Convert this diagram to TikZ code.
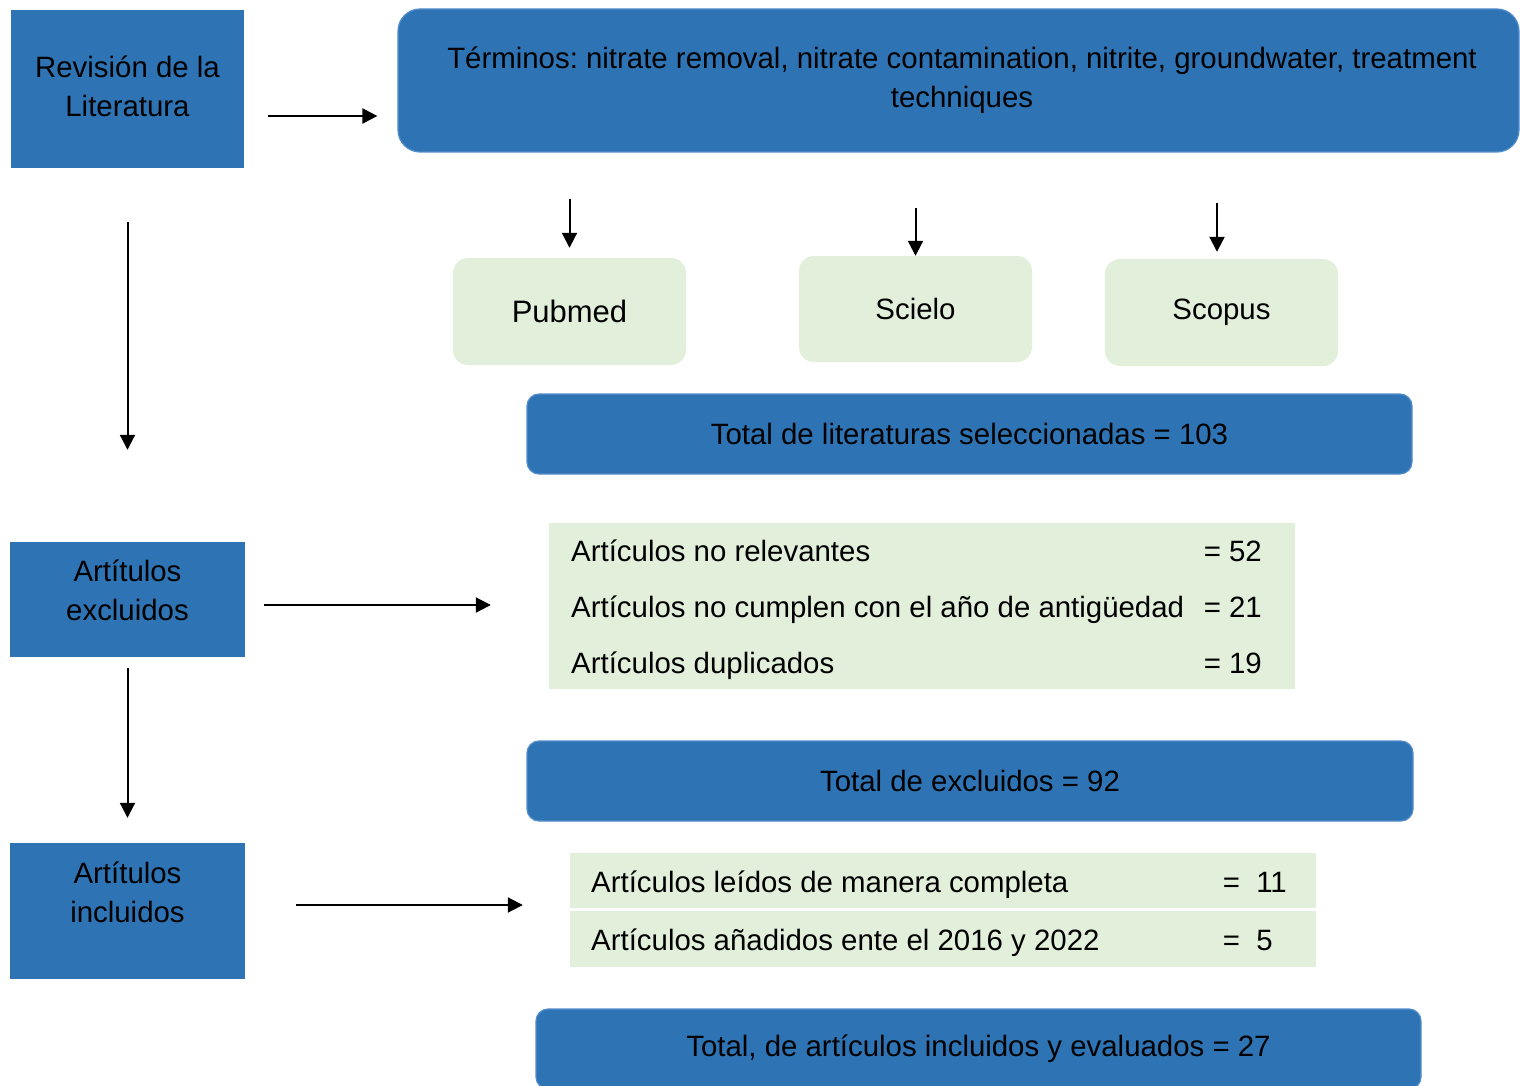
\documentclass[tikz,border=0pt]{standalone}
\usepackage{fontspec}
\setmainfont{Liberation Sans}
\usetikzlibrary{arrows.meta}
\definecolor{bl}{RGB}{46,116,181}
\definecolor{bledge}{RGB}{84,141,204}
\definecolor{gr}{RGB}{226,239,218}
\frenchspacing
\begin{document}
\begin{tikzpicture}[x=1pt,y=-1pt,
  every node/.style={font=\fontsize{29.4pt}{39pt}\selectfont, text=black, inner sep=0pt},
  sqbox/.style={fill=bl, align=center},
  rbox/.style={fill=bl, draw=bledge, line width=1.2pt, rounded corners=#1, align=center},
  rbox/.default=12pt,
  gbox/.style={fill=gr, rounded corners=15pt, align=center},
  lbox/.style={fill=gr},
  row/.style={anchor=base west},
  num/.style={anchor=base east},
  arr/.style={-{Triangle[length=15pt,width=15pt]}, line width=2pt}
]
\clip (0,0) rectangle (1520,1086);
\useasboundingbox (0,0) rectangle (1520,1086);
\fill[white] (0,0) rectangle (1520,1086);

% left column
\node[sqbox, minimum width=233pt, minimum height=158pt] (rev) at (127.5,89) {};
\node[align=center] (revt) at (127.5,86.5) {Revisión de la\\Literatura};
\node[sqbox, minimum width=235pt, minimum height=115pt] (exc) at (127.5,599.5) {};
\node[align=center] (exct) at (127.5,590) {Artítulos\\excluidos};
\node[sqbox, minimum width=235pt, minimum height=136pt] (inc) at (127.5,911) {};
\node[align=center] (inct) at (127.5,892) {Artítulos\\incluidos};

% top
\node[rbox=22pt, minimum width=1121pt, minimum height=143pt] (top) at (958.5,80.5) {};
\node[align=center] (topt) at (962,80) {Términos: nitrate removal, nitrate contamination, nitrite, groundwater, treatment\\techniques};

% databases
\node[gbox, minimum width=233pt, minimum height=107pt, font=\fontsize{31pt}{39pt}\selectfont] (pub) at (569.5,311.5) {Pubmed};
\node[gbox, minimum width=233pt, minimum height=106pt] (sci) at (915.5,309) {Scielo};
\node[gbox, minimum width=233pt, minimum height=107pt] (sco) at (1221.5,312.5) {Scopus};

% totals
\node[rbox, minimum width=885pt, minimum height=80pt] (tlit) at (969.5,434) {Total de literaturas seleccionadas = 103};
\node[rbox, minimum width=886pt, minimum height=80pt] (texc) at (970,781) {Total de excluidos = 92};
\node[rbox, minimum width=885pt, minimum height=80pt] (tinc) at (978.5,1049) {Total, de artículos incluidos y evaluados = 27};

% excluded list
\node[lbox, minimum width=746pt, minimum height=166pt] (lst1) at (922,606) {};
\node[row] (r1) at (571,561) {Artículos no relevantes};
\node[num] (n1) at (1262,561) {= 52};
\node[row] (r2) at (571,617) {Artículos no cumplen con el año de antigüedad};
\node[num] (n2) at (1262,617) {= 21};
\node[row] (r3) at (571,673) {Artículos duplicados};
\node[num] (n3) at (1262,673) {= 19};

% included list
\node[lbox, minimum width=746pt, minimum height=55pt] (lst2) at (943,880.5) {};
\node[lbox, minimum width=746pt, minimum height=56pt] (lst3) at (943,939) {};
\node[row] (r4) at (591,892) {Artículos leídos de manera completa};
\node[num] (n4) at (1287,892) {=\ \ 11};
\node[row] (r5) at (591,950) {Artículos añadidos ente el 2016 y 2022};
\node[num] (n5) at (1273,950) {=\ \ 5};

% arrows
\draw[arr, shorten <=24pt, shorten >=20pt] (rev.east |- 0,116) -- (top.west |- 0,116);
\draw[arr, shorten <=46pt, shorten >=10pt] (top.south -| pub.north) -- (pub.north);
\draw[arr, shorten <=55pt] (top.south -| sci.north) -- (sci.north);
\draw[arr, shorten <=50pt, shorten >=7pt] (top.south -| 1217,0) -- (sco.north -| 1217,0);
\draw[arr, shorten <=54pt, shorten >=92pt] (rev.south) -- (exc.north);
\draw[arr, shorten <=11pt, shorten >=25pt] (exc.south) -- (inc.north);
\draw[arr, shorten <=19pt, shorten >=58pt] (exc.east |- 0,605) -- (lst1.west |- 0,605);
\draw[arr, shorten <=51pt, shorten >=47pt] (inc.east |- 0,905) -- (lst2.west |- 0,905);
\end{tikzpicture}
\end{document}
